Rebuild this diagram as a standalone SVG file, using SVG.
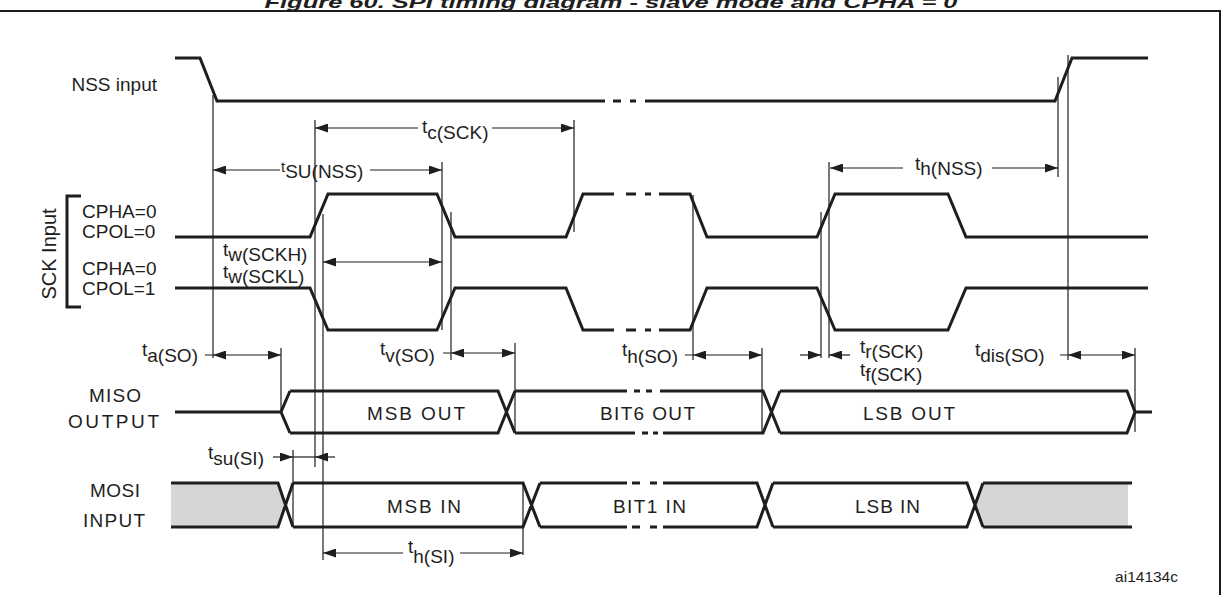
<svg xmlns="http://www.w3.org/2000/svg" width="1226" height="595" viewBox="0 0 1226 595">
<style>
.w{fill:none;stroke:#1e1e1e;stroke-width:3;stroke-linejoin:miter;stroke-linecap:butt}
.t{fill:none;stroke:#1e1e1e;stroke-width:1.2}
.a{fill:none;stroke:#1e1e1e;stroke-width:1.2;marker-end:url(#ah)}
.a2{fill:none;stroke:#1e1e1e;stroke-width:1.2;marker-start:url(#ah);marker-end:url(#ah)}
.as{fill:none;stroke:#1e1e1e;stroke-width:1.2;marker-start:url(#ah)}
.l{font-family:"Liberation Sans",Arial,sans-serif;font-size:19px;fill:#1e1e1e}
.g{fill:#d6d6d6;stroke:none}
</style>
<defs>
<marker id="ah" viewBox="0 0 13 9" refX="13" refY="4.5" markerWidth="13" markerHeight="9" markerUnits="userSpaceOnUse" orient="auto-start-reverse">
<path d="M0,0 L13,4.5 L0,9 z" fill="#1e1e1e"/>
</marker>
</defs>
<rect width="1226" height="595" fill="#fff"/>
<g id="title">
<text x="611" y="7.5" text-anchor="middle" textLength="693" lengthAdjust="spacingAndGlyphs" style="font-family:'Liberation Sans',Arial,sans-serif;font-size:17px;font-weight:bold;font-style:italic;fill:#1e1e1e">Figure 60. SPI timing diagram - slave mode and CPHA = 0</text>
<path d="M0,11 H1220 V595" fill="none" stroke="#1e1e1e" stroke-width="2"/>
</g>
<g id="nss">
<text class="l" x="157" y="91" text-anchor="end">NSS input</text>
<path class="w" d="M175,58 H200 L217,101 H605 M613,101 H621 M630,101 H636 M645,101 H1055 L1072,58 H1148"/>
</g>
<g id="sck-label">
<text class="l" x="55.5" y="254" text-anchor="middle" transform="rotate(-90 55.5 254)" style="font-size:20px">SCK Input</text>
<path class="w" d="M81,196 H67 V307 H81"/>
</g>
<g id="sck-cpol0">
<text class="l" x="82" y="218">CPHA=0</text>
<text class="l" x="82" y="238">CPOL=0</text>
<path class="w" d="M175,237 H310 L328,194 H437 L455,237 H566 L583,194 H614 M626,194 H636 M645,194 H651 M659,194 H690 L707,237 H817 L835,194 H948 L966,237 H1148"/>
</g>
<g id="sck-cpol1">
<text class="l" x="82" y="275">CPHA=0</text>
<text class="l" x="82" y="295">CPOL=1</text>
<path class="w" d="M175,288 H310 L328,330 H437 L455,288 H566 L583,330 H614 M626,330 H636 M645,330 H651 M659,330 H690 L707,288 H817 L835,330 H948 L966,288 H1148"/>
</g>
<g id="miso">
<text class="l" x="115" y="402" text-anchor="middle" textLength="52" lengthAdjust="spacing">MISO</text>
<text class="l" x="113.5" y="428" text-anchor="middle" textLength="91" lengthAdjust="spacing">OUTPUT</text>
<path class="w" d="M175,412 H281 M290,391 L281,412 L290,433 M290,391 H498 L515,433 M290,433 H498 L515,391 M515,391 H627 M634,391 H640 M646,391 H652 M660,391 H763 L780,433 M515,433 H635 M642,433 H648 M653,433 H658 M663,433 H763 L780,391 M780,391 H1127 L1135,412 L1127,433 H780 M1135,412 H1152"/>
<text class="l" x="416" y="420" text-anchor="middle" textLength="98" lengthAdjust="spacing">MSB OUT</text>
<text class="l" x="647.5" y="420" text-anchor="middle" textLength="95" lengthAdjust="spacing">BIT6 OUT</text>
<text class="l" x="909" y="420" text-anchor="middle" textLength="92" lengthAdjust="spacing">LSB OUT</text>
</g>
<g id="mosi">
<text class="l" x="115" y="497" text-anchor="middle" textLength="50" lengthAdjust="spacing">MOSI</text>
<text class="l" x="114" y="527" text-anchor="middle" textLength="62" lengthAdjust="spacing">INPUT</text>
<polygon class="g" points="171,483 278,483 285.5,505 278,527 171,527"/>
<polygon class="g" points="975,505 983,483 1128,483 1128,527 983,527"/>
<path class="w" d="M171,483 H278 L293,527 M171,527 H278 L293,483 M293,483 H523 L540,527 M293,527 H523 L540,483 M540,483 H627 M632,483 H640 M650,483 H657 M663,483 H757 L773,527 M540,527 H627 M632,527 H640 M650,527 H657 M663,527 H757 L773,483 M773,483 H967 L983,527 M773,527 H967 L983,483 M983,483 H1132 M983,527 H1132"/>
<text class="l" x="424" y="513" text-anchor="middle" textLength="74" lengthAdjust="spacing">MSB IN</text>
<text class="l" x="649.5" y="513" text-anchor="middle" textLength="73" lengthAdjust="spacing">BIT1 IN</text>
<text class="l" x="887.5" y="513" text-anchor="middle" textLength="65" lengthAdjust="spacing">LSB IN</text>
</g>
<g id="connectors">
<path class="t" d="M213,95 V358 M315,120 V467 M323,214 V560 M442,162 V330 M451,212 V360 M281,348 V412 M293,450 V527 M574,120 V232 M515,343 V433 M693,195 V360 M762,348 V433 M821,212 V358 M829,162 V358 M1058,77 V177 M1068,55 V360 M1135,348 V432 M523,483 V555"/>
<path class="as" d="M315,128 H418"/>
<path class="a" d="M492,128 H574"/>
<path class="as" d="M213,170 H280"/>
<path class="a" d="M370,170 H442"/>
<path class="a2" d="M323,262 H442"/>
<path class="t" d="M205,355 H213 M443,353 H451 M685,355 H693 M1060,355 H1068"/>
<path class="a2" d="M213,355 H281"/>
<path class="a2" d="M451,353 H515"/>
<path class="a2" d="M693,355 H762"/>
<path class="a2" d="M1068,355 H1135"/>
<path class="a" d="M800,355 H821"/>
<path class="a" d="M850,355 H829"/>
<path class="as" d="M830,168 H903"/>
<path class="a" d="M992,168 H1058"/>
<path class="a" d="M273,457 H293"/>
<path class="t" d="M293,457 H315"/>
<path class="a" d="M335,457 H315"/>
<path class="as" d="M323,553 H403"/>
<path class="a" d="M460,553 H523"/>
</g>
<g id="timing-labels">
<text class="l" x="422" y="133">t<tspan dy="6">c(SCK)</tspan></text>
<text class="l" x="281" y="172"><tspan style="font-size:15px">t</tspan><tspan dy="6">SU(NSS)</tspan></text>
<text class="l" x="223" y="256">t<tspan dy="5">w(SCKH)</tspan></text>
<text class="l" x="223" y="278">t<tspan dy="5">w(SCKL)</tspan></text>
<text class="l" x="142" y="356">t<tspan dy="6">a(SO)</tspan></text>
<text class="l" x="380" y="355">t<tspan dy="7">v(SO)</tspan></text>
<text class="l" x="622" y="356">t<tspan dy="7">h(SO)</tspan></text>
<text class="l" x="860" y="353">t<tspan dy="5">r(SCK)</tspan></text>
<text class="l" x="860" y="376">t<tspan dy="5">f(SCK)</tspan></text>
<text class="l" x="975" y="356">t<tspan dy="6">dis(SO)</tspan></text>
<text class="l" x="915" y="170">t<tspan dy="5">h(NSS)</tspan></text>
<text class="l" x="208" y="459">t<tspan dy="6">su(SI)</tspan></text>
<text class="l" x="408" y="553">t<tspan dy="10">h(SI)</tspan></text>
<text x="1178" y="582" text-anchor="end" style="font-family:'Liberation Sans',Arial,sans-serif;font-size:15.5px;fill:#1e1e1e">ai14134c</text>
</g>
</svg>
